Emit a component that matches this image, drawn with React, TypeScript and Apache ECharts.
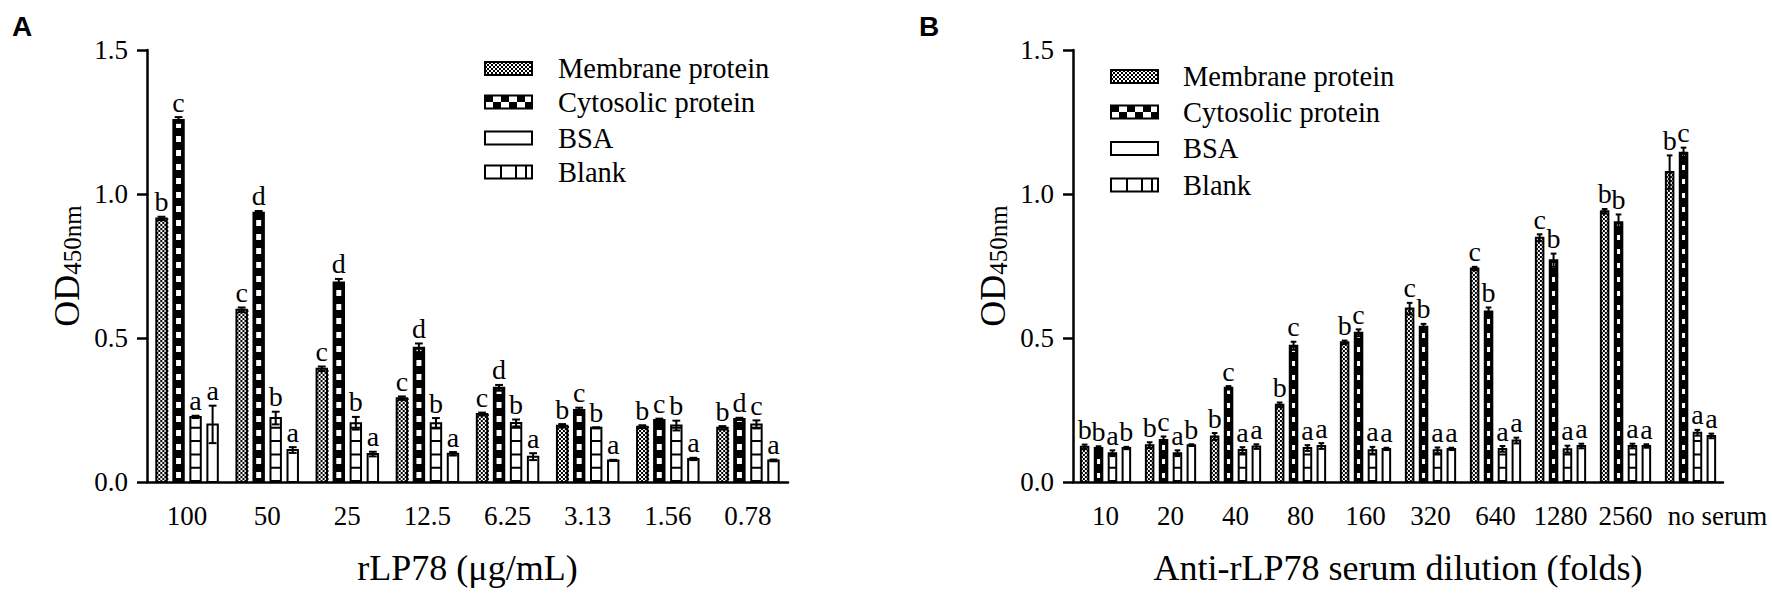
import React, { useEffect, useRef } from 'react';
import * as echarts from 'echarts';

const seriesNames = ['Membrane protein', 'Cytosolic protein', 'BSA', 'Blank'];

// Panel A
const catsA = ['100', '50', '25', '12.5', '6.25', '3.13', '1.56', '0.78'];
const memA = [0.915, 0.598, 0.393, 0.291, 0.236, 0.195, 0.192, 0.188];
const memAErr = [0.006, 0.008, 0.008, 0.006, 0.005, 0.006, 0.005, 0.006];
const cytA = [1.257, 0.935, 0.693, 0.466, 0.327, 0.25, 0.215, 0.219];
const cytAErr = [0.01, 0.006, 0.012, 0.015, 0.01, 0.008, 0.005, 0.004];
const bsaA = [0.226, 0.222, 0.204, 0.204, 0.205, 0.188, 0.196, 0.2];
const bsaAErr = [0.004, 0.022, 0.022, 0.018, 0.012, 0.002, 0.017, 0.014];
const blkA = [0.2, 0.111, 0.097, 0.098, 0.088, 0.075, 0.08, 0.075];
const blkAErr = [0.065, 0.01, 0.008, 0.006, 0.012, 0.002, 0.004, 0.003];
const memALet = ['b', 'c', 'c', 'c', 'c', 'b', 'b', 'b'];
const cytALet = ['c', 'd', 'd', 'd', 'd', 'c', 'c', 'd'];
const bsaALet = ['a', 'b', 'b', 'b', 'b', 'b', 'b', 'c'];
const blkALet = ['a', 'a', 'a', 'a', 'a', 'a', 'a', 'a'];

// Panel B
const catsB = ['10', '20', '40', '80', '160', '320', '640', '1280', '2560', 'no serum'];
const memB = [0.122, 0.128, 0.158, 0.268, 0.485, 0.602, 0.741, 0.848, 0.94, 1.076];
const memBErr = [0.008, 0.01, 0.012, 0.008, 0.006, 0.02, 0.006, 0.012, 0.008, 0.058];
const cytB = [0.118, 0.146, 0.327, 0.473, 0.518, 0.539, 0.592, 0.77, 0.902, 1.143];
const cytBErr = [0.006, 0.012, 0.006, 0.014, 0.012, 0.01, 0.014, 0.023, 0.027, 0.018];
const bsaB = [0.1, 0.1, 0.111, 0.118, 0.11, 0.11, 0.115, 0.114, 0.125, 0.171];
const bsaBErr = [0.01, 0.01, 0.01, 0.01, 0.012, 0.01, 0.01, 0.012, 0.008, 0.01];
const blkB = [0.118, 0.128, 0.123, 0.125, 0.115, 0.115, 0.144, 0.125, 0.125, 0.16];
const blkBErr = [0.004, 0.003, 0.008, 0.01, 0.004, 0.004, 0.01, 0.008, 0.006, 0.008];
const memBLet = ['b', 'b', 'b', 'b', 'b', 'c', 'c', 'c', 'b', 'b'];
const cytBLet = ['b', 'c', 'c', 'c', 'c', 'b', 'b', 'b', 'b', 'c'];
const bsaBLet = ['a', 'a', 'a', 'a', 'a', 'a', 'a', 'a', 'a', 'a'];
const blkBLet = ['b', 'b', 'a', 'a', 'a', 'a', 'a', 'a', 'a', 'a'];

const yTicks = [0, 0.5, 1.0, 1.5];

const SERIF = "'Liberation Serif', 'Times New Roman', serif";
const SANS = "'Liberation Sans', Arial, sans-serif";

type PanelCfg = { pitch: number; width: number; sqW: number; sqH: number };
const cfgA: PanelCfg = { pitch: 0.2125, width: 0.13, sqW: 5, sqH: 6 };
const cfgB: PanelCfg = { pitch: 0.214, width: 0.116, sqW: 3, sqH: 5 };

function makeRender(kind: number, letters: string[], cfg: PanelCfg) {
  return (params: any, api: any) => {
    const idx = api.value(0);
    const v = api.value(1);
    const e = api.value(2);
    const base = api.coord([idx, 0]);
    const top = api.coord([idx, v]);
    const band = api.size([1, 0])[0];
    const cx = base[0] + (kind - 1.5) * cfg.pitch * band;
    const w = cfg.width * band;
    const x0 = cx - w / 2;
    const y0 = base[1];
    const y1 = top[1];
    const h = y0 - y1;
    const children: any[] = [];
    children.push({
      type: 'rect',
      shape: { x: x0, y: y1, width: w, height: h },
      style: { fill: kind === 1 ? '#000' : '#fff' },
    });
    if (kind === 0) {
      const c = 2;
      for (let k = 0; x0 + k * c < x0 + w; k++) {
        const x = x0 + c / 2 + k * c;
        children.push({
          type: 'line',
          shape: { x1: x, y1: y0, x2: x, y2: y1 },
          style: { stroke: '#000', lineWidth: c, lineDash: [c, c], lineDashOffset: k % 2 ? c : 0 },
        });
      }
    } else if (kind === 1) {
      children.push({
        type: 'line',
        shape: { x1: cx, y1: y0, x2: cx, y2: y1 + 2 },
        style: { stroke: '#fff', lineWidth: cfg.sqW, lineDash: [cfg.sqH, 14 - cfg.sqH], lineDashOffset: 10 },
      });
    } else if (kind === 2) {
      children.push({
        type: 'line',
        shape: { x1: cx, y1: y0, x2: cx, y2: y1 },
        style: { stroke: '#000', lineWidth: w, lineDash: [2, 11.3], lineDashOffset: 0 },
      });
    }
    children.push({
      type: 'rect',
      shape: { x: x0, y: y1, width: w, height: h },
      style: { fill: 'none', stroke: '#000', lineWidth: 2 },
    });
    const yHi = api.coord([idx, v + e])[1];
    const yLo = api.coord([idx, Math.max(0, v - e)])[1];
    const cap = w * 0.75;
    children.push({
      type: 'line',
      shape: { x1: cx, y1: yLo, x2: cx, y2: yHi },
      style: { stroke: '#000', lineWidth: 2 },
    });
    children.push({
      type: 'line',
      shape: { x1: cx - cap / 2, y1: yHi, x2: cx + cap / 2, y2: yHi },
      style: { stroke: '#000', lineWidth: 2 },
    });
    children.push({
      type: 'line',
      shape: { x1: cx - cap / 2, y1: yLo, x2: cx + cap / 2, y2: yLo },
      style: { stroke: '#000', lineWidth: 2 },
    });
    children.push({
      type: 'text',
      style: {
        text: letters[params.dataIndex],
        x: cx,
        y: yHi - 1,
        align: 'center',
        verticalAlign: 'bottom',
        fontSize: 28,
        fontFamily: SERIF,
        fill: '#000',
      },
    });
    return { type: 'group', children };
  };
}

function legend(x: number, ys: number[], textX: number) {
  const w = 47;
  const h = 13;
  const els: any[] = [];
  ys.forEach((yc, i) => {
    const top = yc - h / 2;
    els.push({ type: 'rect', shape: { x, y: top, width: w, height: h }, style: { fill: '#fff' } });
    if (i === 0) {
      for (let r = 0; r * 2 < h; r++) {
        const y = top + 1 + r * 2;
        els.push({
          type: 'line',
          shape: { x1: x, y1: y, x2: x + w, y2: y },
          style: { stroke: '#000', lineWidth: 2, lineDash: [2, 2], lineDashOffset: r % 2 ? 2 : 0 },
        });
      }
    } else if (i === 1) {
      els.push({
        type: 'line',
        shape: { x1: x, y1: top + h / 4, x2: x + w, y2: top + h / 4 },
        style: { stroke: '#000', lineWidth: h / 2, lineDash: [8, 8], lineDashOffset: 0 },
      });
      els.push({
        type: 'line',
        shape: { x1: x, y1: top + (3 * h) / 4, x2: x + w, y2: top + (3 * h) / 4 },
        style: { stroke: '#000', lineWidth: h / 2, lineDash: [8, 8], lineDashOffset: 8 },
      });
    } else if (i === 3) {
      [16, 31, 41].forEach((dx) => {
        els.push({
          type: 'line',
          shape: { x1: x + dx, y1: top, x2: x + dx, y2: top + h },
          style: { stroke: '#000', lineWidth: 2 },
        });
      });
    }
    els.push({
      type: 'rect',
      shape: { x, y: top, width: w, height: h },
      style: { fill: 'none', stroke: '#000', lineWidth: 2 },
    });
    els.push({
      type: 'text',
      x: textX,
      y: yc,
      style: {
        text: seriesNames[i],
        fontSize: 28.5,
        fontFamily: SERIF,
        fill: '#000',
        align: 'left',
        verticalAlign: 'middle',
      },
    });
  });
  return els;
}

function toData(vals: number[], errs: number[]) {
  return vals.map((v, i) => [i, v, errs[i]]);
}

export default function App() {
  const ref = useRef<HTMLDivElement>(null);
  useEffect(() => {
    document.body.style.margin = '0';
    if (!ref.current) return;
    const chart = echarts.init(ref.current, null, { renderer: 'svg' });

    const axisLineStyle = { color: '#000', width: 2.5 };
    const mkX = (cats: string[], gridIndex: number, name: string) => ({
      type: 'category',
      gridIndex,
      data: cats,
      boundaryGap: true,
      axisLine: { lineStyle: axisLineStyle },
      axisTick: { alignWithLabel: true, length: 10, lineStyle: { color: '#000', width: 2.5 } },
      axisLabel: {
        color: '#000',
        fontSize: 27,
        fontFamily: SERIF,
        margin: 20,
        interval: 0,
        formatter: (v: string) => (v === 'no serum' ? '{ns|' + v + '}' : v),
        rich: {
          ns: { color: '#000', fontSize: 27, fontFamily: SERIF, padding: [0, 0, 0, 54] },
        },
      },
      name,
      nameLocation: 'middle',
      nameGap: 68,
      nameTextStyle: { color: '#000', fontSize: 36, fontFamily: SERIF },
      splitLine: { show: false },
    });
    const mkY = (gridIndex: number) => ({
      type: 'value',
      gridIndex,
      min: 0,
      max: 1.5,
      interval: 0.5,
      axisLine: { show: true, lineStyle: axisLineStyle },
      axisTick: { show: true, length: 10, lineStyle: { color: '#000', width: 2.5 } },
      axisLabel: {
        color: '#000',
        fontSize: 27,
        fontFamily: SERIF,
        margin: 19,
        formatter: (v: number) => (yTicks.indexOf(v) >= 0 ? v.toFixed(1) : ''),
      },
      splitLine: { show: false },
      name: '{od|OD}{sub|450nm}',
      nameLocation: 'middle',
      nameRotate: 90,
      nameGap: 62,
      nameTextStyle: {
        color: '#000',
        rich: {
          od: { fontSize: 36, fontFamily: SERIF, color: '#000', verticalAlign: 'bottom' },
          sub: { fontSize: 25, fontFamily: SERIF, color: '#000', verticalAlign: 'bottom' },
        },
      },
    });

    const custom = (data: any[], kind: number, letters: string[], cfg: PanelCfg, ai: number) => ({
      type: 'custom',
      name: seriesNames[kind],
      coordinateSystem: 'cartesian2d',
      xAxisIndex: ai,
      yAxisIndex: ai,
      clip: false,
      encode: { x: 0, y: 1 },
      data,
      renderItem: makeRender(kind, letters, cfg),
    });

    chart.setOption({
      animation: false,
      backgroundColor: '#fff',
      grid: [
        { left: 147, top: 50, width: 641, height: 432, outerBoundsMode: 'none' },
        { left: 1073, top: 50, width: 650, height: 432, outerBoundsMode: 'none' },
      ],
      xAxis: [
        mkX(catsA, 0, 'rLP78 (μg/mL)'),
        mkX(catsB, 1, 'Anti-rLP78 serum dilution (folds)'),
      ],
      yAxis: [mkY(0), mkY(1)],
      series: [
        custom(toData(memA, memAErr), 0, memALet, cfgA, 0),
        custom(toData(cytA, cytAErr), 1, cytALet, cfgA, 0),
        custom(toData(bsaA, bsaAErr), 2, bsaALet, cfgA, 0),
        custom(toData(blkA, blkAErr), 3, blkALet, cfgA, 0),
        custom(toData(memB, memBErr), 0, memBLet, cfgB, 1),
        custom(toData(cytB, cytBErr), 1, cytBLet, cfgB, 1),
        custom(toData(bsaB, bsaBErr), 2, bsaBLet, cfgB, 1),
        custom(toData(blkB, blkBErr), 3, blkBLet, cfgB, 1),
      ],
      graphic: [
        {
          type: 'text',
          x: 12,
          y: 12,
          style: { text: 'A', fontSize: 28, fontWeight: 'bold', fontFamily: SANS, fill: '#000' },
        },
        {
          type: 'text',
          x: 919,
          y: 12,
          style: { text: 'B', fontSize: 28, fontWeight: 'bold', fontFamily: SANS, fill: '#000' },
        },
        ...legend(485, [68.5, 102, 138, 172], 558),
        ...legend(1111, [76.5, 112, 148.5, 185], 1183),
      ],
    });
    return () => chart.dispose();
  }, []);
  return <div ref={ref} style={{ width: 1772, height: 599 }} />;
}
